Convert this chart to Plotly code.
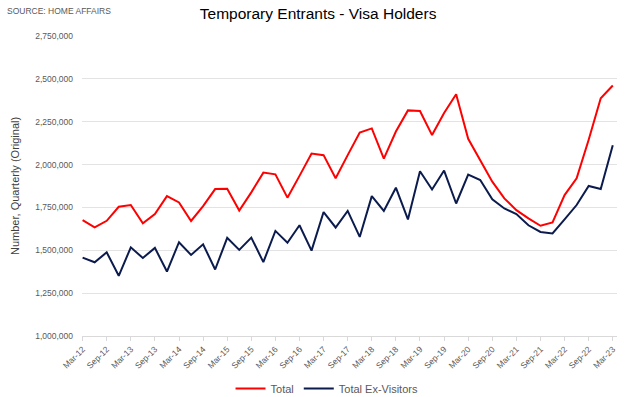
import plotly.graph_objects as go

# Quarter labels
years = list(range(12, 24))
months = ["Mar", "Jun", "Sep", "Dec"]
quarters = [f"{m}-{y}" for y in years for m in months][:45]

tick_labels = quarters[::2]

total = [1676, 1634, 1672, 1754, 1764, 1657, 1711, 1816, 1779, 1671, 1758,
         1857, 1859, 1732, 1838, 1953, 1943, 1807, 1934, 2064, 2055, 1920,
         2055, 2187, 2211, 2035, 2193, 2316, 2312, 2172, 2301, 2410, 2150,
         2027, 1900, 1803, 1734, 1686, 1643, 1662, 1822, 1920, 2145, 2387, 2461]
total = [v * 1000 for v in total]

ex_visitors = [1457, 1430, 1488, 1351, 1517, 1455, 1514, 1376, 1547, 1473, 1535,
               1388, 1573, 1502, 1574, 1431, 1613, 1544, 1646, 1498, 1723, 1633,
               1730, 1578, 1816, 1730, 1865, 1680, 1961, 1855, 1965, 1773, 1941,
               1910, 1797, 1744, 1711, 1646, 1607, 1598, 1680, 1764, 1875, 1857, 2113]
ex_visitors = [v * 1000 for v in ex_visitors]

GRAY = "#595959"
GRID = "#e3e3e3"

fig = go.Figure()
fig.add_trace(go.Scatter(x=quarters, y=total, mode="lines", name="Total",
                         line=dict(color="#ff0000", width=2)))
fig.add_trace(go.Scatter(x=quarters, y=ex_visitors, mode="lines", name="Total Ex-Visitors",
                         line=dict(color="#0b1b4d", width=2)))

fig.update_layout(
    width=640, height=397,
    margin=dict(l=82, r=23, t=36, b=61, autoexpand=False),
    paper_bgcolor="white", plot_bgcolor="white",
    font=dict(family="Liberation Sans, Arial, sans-serif", color=GRAY),
    title=dict(text="Temporary Entrants - Visa Holders", x=0.497, xanchor="center",
               y=0.967, yanchor="middle", yref="container",
               font=dict(size=15.5, color="#000000")),
    showlegend=True,
    legend=dict(orientation="h", x=0.458, xanchor="center", y=-0.175, yanchor="middle",
                font=dict(size=11, color=GRAY), itemwidth=30,
                bgcolor="rgba(0,0,0,0)"),
    annotations=[
        dict(text="SOURCE: HOME AFFAIRS", xref="paper", yref="paper",
             x=(5 - 82) / 535, y=1 + (36 - 11) / 300, xanchor="left", yanchor="middle",
             showarrow=False, font=dict(size=8.5, color=GRAY)),
        dict(text="Number, Quarterly (Original)", xref="paper", yref="paper",
             x=(15 - 82) / 535, y=0.5, xanchor="center", yanchor="middle",
             textangle=-90, showarrow=False, font=dict(size=11, color="#404040")),
    ],
)

fig.update_xaxes(
    type="category", range=[-0.05, 44.35],
    tickmode="array", tickvals=tick_labels, ticktext=tick_labels,
    tickangle=-45, tickfont=dict(size=8.5, color=GRAY),
    showgrid=False, showline=True, linecolor="#d9d9d9", linewidth=1,
    ticks="outside", ticklen=4, tickcolor="#d9d9d9",
)
fig.update_yaxes(
    range=[1000000, 2750000], dtick=250000, tickformat=",",
    tickfont=dict(size=8.5, color=GRAY),
    showgrid=True, gridcolor=GRID, gridwidth=1, zeroline=False,
    showline=False, ticks="", ticklabelstandoff=8,
)

fig.write_html("out.html", config={"displayModeBar": False},
               post_script="document.body.style.margin='0px';")
